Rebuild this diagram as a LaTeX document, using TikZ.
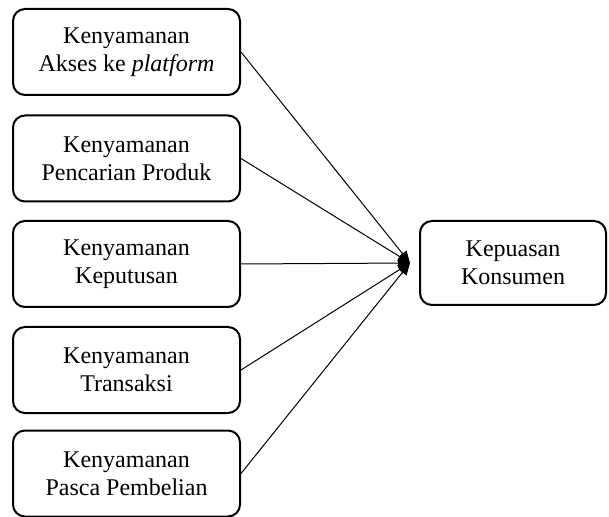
\documentclass[tikz,border=0pt]{standalone}
\usepackage{fontspec}
\setmainfont{Liberation Serif}
\usetikzlibrary{arrows.meta}

\begin{document}
\begin{tikzpicture}[x=0.5pt,y=-0.5pt]
\tikzstyle{every node}+=[inner sep=0pt]
\tikzstyle{factor}=[draw=black, line width=1pt, rounded corners=6pt, minimum width=113.5pt, minimum height=43pt, align=center, font=\fontsize{12}{14}\selectfont]
\tikzstyle{link}=[draw=black, line width=0.5pt, -{Triangle[length=6pt,width=5pt]}]
\useasboundingbox (0,0) rectangle (609,517);
% left column
\node [factor] (akses) at (126.5,52) {Kenyamanan\\Akses ke \textit{platform}};
\node [factor] (cari) at (126.5,158.5) {Kenyamanan\\Pencarian Produk};
\node [factor] (putus) at (126.5,264) {Kenyamanan\\Keputusan};
\node [factor] (trans) at (126.5,370) {Kenyamanan\\Transaksi};
\node [factor] (pasca) at (126.5,473.5) {Kenyamanan\\Pasca Pembelian};
% right box
\node [factor, minimum width=93pt, minimum height=42pt] (puas) at (513,263) {Kepuasan\\Konsumen};
\coordinate (tip) at (410,263);
\foreach \src in {akses,cari,putus,trans,pasca}
  \draw [link] (\src.east) -- (tip);
\end{tikzpicture}
\end{document}
